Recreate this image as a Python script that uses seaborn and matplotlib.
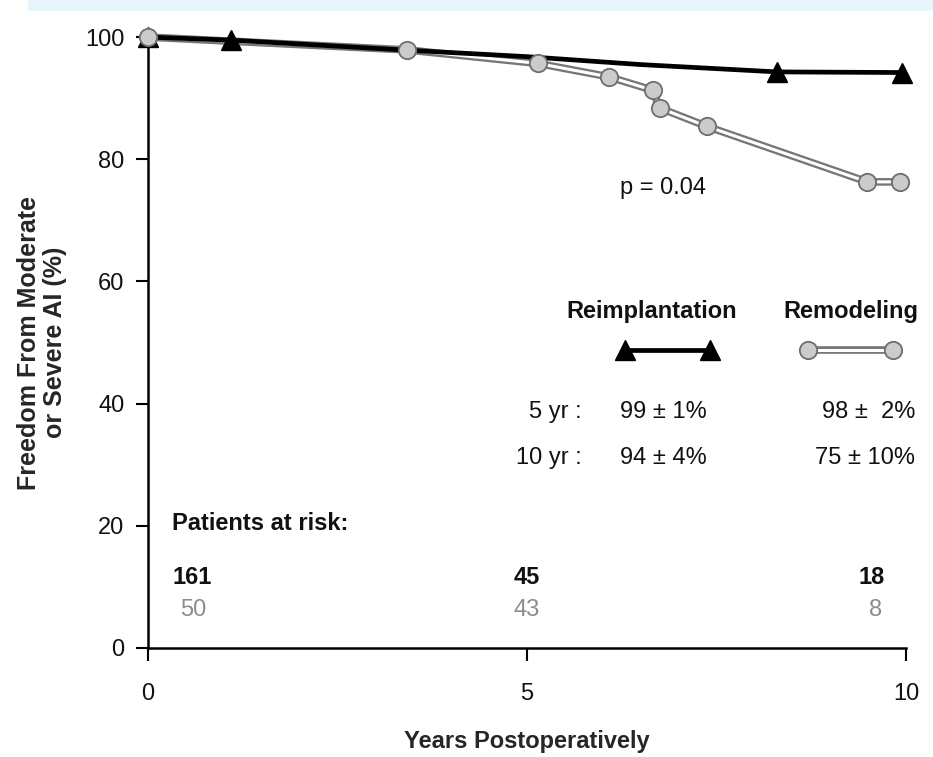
import matplotlib
matplotlib.use("Agg")
import matplotlib.pyplot as plt
import seaborn as sns
import pandas as pd
from matplotlib.patches import Rectangle

# ---------------- data ----------------
reimp_years = [0.0, 1.1, 3.5, 5.0, 6.5, 8.3, 9.95]
reimp_free = [100.0, 99.5, 97.8, 96.8, 95.5, 94.3, 94.2]
reimp_marker_years = [0.0, 1.1, 8.3, 9.95]
reimp_marker_free = [100.0, 99.5, 94.3, 94.2]

remod_years = [0.0, 3.42, 5.14, 6.08, 6.66, 6.75, 7.37, 9.49, 9.92]
remod_free = [100.0, 97.9, 95.7, 93.5, 91.3, 88.4, 85.4, 76.3, 76.3]

risk_years = [0, 5, 10]
risk_reimp = ["161", "45", "18"]
risk_remod = ["50", "43", "8"]

x_ticks = [0, 5, 10]
y_ticks = [0, 20, 40, 60, 80, 100]

# ---------------- style ----------------
sns.set_theme(style="white")
FONT = ["Liberation Sans Narrow", "Liberation Sans", "DejaVu Sans"]
plt.rcParams["font.family"] = FONT

fig = plt.figure(figsize=(9.33, 7.57), dpi=100)
fig.patch.set_facecolor("white")
fig.patches.append(Rectangle((0.03, 0.985), 0.97, 0.015, transform=fig.transFigure,
                             facecolor="#e8f6fb", edgecolor="none", zorder=0))
ax = fig.add_axes([0.1586, 0.144, 0.8124, 0.807])
ax.set_facecolor("white")

df_reimp = pd.DataFrame({"year": reimp_years, "free": reimp_free})
df_reimp_m = pd.DataFrame({"year": reimp_marker_years, "free": reimp_marker_free})
df_remod = pd.DataFrame({"year": remod_years, "free": remod_free})

# Remodeling: double (outlined) line
sns.lineplot(data=df_remod, x="year", y="free", ax=ax, color="#767676", lw=5.5,
             estimator=None, sort=False, zorder=3, clip_on=False)
sns.lineplot(data=df_remod, x="year", y="free", ax=ax, color="white", lw=2.2,
             estimator=None, sort=False, zorder=4, clip_on=False)

# Reimplantation: solid black line with triangles
sns.lineplot(data=df_reimp, x="year", y="free", ax=ax, color="black", lw=3.4,
             estimator=None, sort=False, zorder=5, clip_on=False)
ax.plot(df_reimp_m["year"], df_reimp_m["free"], ls="none", marker="^", ms=15,
        mfc="black", mec="black", zorder=6, clip_on=False)

# Remodeling circles on top
ax.plot(df_remod["year"], df_remod["free"], ls="none", marker="o", ms=12.5,
        mfc="#cbcbcb", mec="#6e6e6e", mew=1.3, zorder=7, clip_on=False)

# ---------------- axes ----------------
ax.set_xlim(0, 10)
ax.set_ylim(0, 100)
ax.set_xticks(x_ticks)
ax.set_yticks(y_ticks)
ax.set_xticklabels([str(t) for t in x_ticks], fontsize=17)
ax.set_yticklabels([str(t) for t in y_ticks], fontsize=17)
for s in ["top", "right"]:
    ax.spines[s].set_visible(False)
for s in ["left", "bottom"]:
    ax.spines[s].set_color("black")
    ax.spines[s].set_linewidth(1.8)
ax.tick_params(axis="both", which="major", bottom=True, left=True, top=False, right=False,
               direction="out", length=9, width=1.5, color="black", labelcolor="#111111")
ax.tick_params(axis="x", pad=16)
ax.tick_params(axis="y", pad=8)
ax.grid(False)

ax.set_xlabel("Years Postoperatively", fontsize=17, fontweight="bold", labelpad=18)
ax.set_ylabel("Freedom From Moderate\nor Severe AI (%)", fontsize=18,
              fontweight="bold", labelpad=13, linespacing=1.1)

# ---------------- annotations ----------------
txt = dict(fontsize=17, color="#111111")
ax.text(6.79, 75.3, "p = 0.04", ha="center", va="center", **txt)
ax.text(6.65, 55.0, "Reimplantation", ha="center", va="center", fontweight="bold", **txt)
ax.text(9.27, 55.0, "Remodeling", ha="center", va="center", fontweight="bold", **txt)

# legend glyphs
ax.plot([6.29, 7.41], [48.8, 48.8], color="black", lw=3.4, zorder=6)
ax.plot([6.29, 7.41], [48.8, 48.8], ls="none", marker="^", ms=15, color="black", zorder=7)
ax.plot([8.71, 9.83], [48.8, 48.8], color="#767676", lw=5.5, zorder=3)
ax.plot([8.71, 9.83], [48.8, 48.8], color="white", lw=2.2, zorder=4)
ax.plot([8.71, 9.83], [48.8, 48.8], ls="none", marker="o", ms=12.5, mfc="#cbcbcb",
        mec="#6e6e6e", mew=1.3, zorder=5)

ax.text(5.72, 38.6, "5 yr :", ha="right", va="center", **txt)
ax.text(5.72, 31.1, "10 yr :", ha="right", va="center", **txt)
ax.text(6.23, 38.6, "99 ± 1%", ha="left", va="center", **txt)
ax.text(6.23, 31.1, "94 ± 4%", ha="left", va="center", **txt)
ax.text(10.12, 38.6, "98 ±  2%", ha="right", va="center", **txt)
ax.text(10.12, 31.1, "75 ± 10%", ha="right", va="center", **txt)

ax.text(0.32, 20.3, "Patients at risk:", ha="left", va="center", fontweight="bold", **txt)
has = ["left", "center", "right"]
xoff = [0.32, 0.0, -0.28]
for yr, a, b, h, o in zip(risk_years, risk_reimp, risk_remod, has, xoff):
    ax.text(yr + o, 11.5, a, ha=h, va="center", fontsize=17, color="#111111", fontweight="bold")
    ax.text(yr + o + (0.1 if h == "left" else 0.0) - (0.03 if h == "right" else 0.0), 6.2, b,
            ha=h, va="center", fontsize=17, color="#8c8c8c")

fig.savefig("out.png", dpi=100, facecolor="white")
